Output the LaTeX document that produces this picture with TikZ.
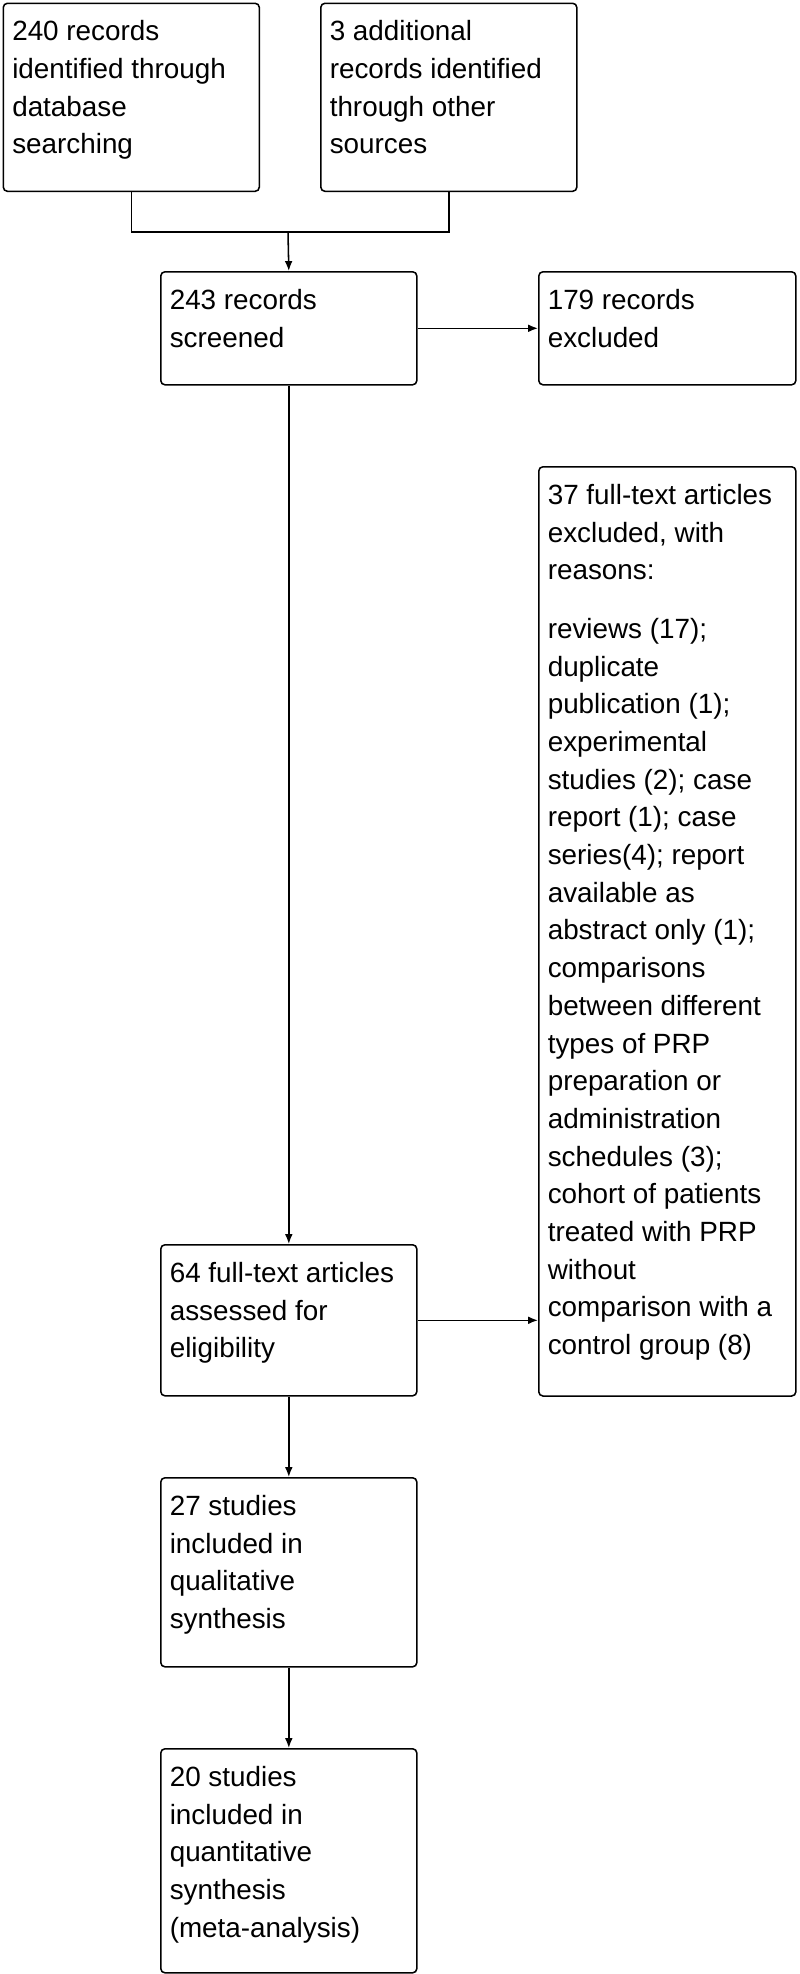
\documentclass[tikz,border=0pt]{standalone}
\usepackage{fontspec}
\setmainfont{Liberation Sans}
\usepackage{tikz}
\usetikzlibrary{calc}
\usetikzlibrary{arrows.meta}
\tikzset{>={Latex[length=7pt,width=5.5pt]}}

% box text: width, height, lines
\newcommand{\boxtext}[3]{\parbox[t][#2][t]{#1}{\raggedright\rule{0pt}{0.94cm}#3}}

\tikzset{
	flowbox/.style={draw=black, line width=1.1pt, rounded corners=3pt,
		anchor=north west, inner xsep=0.225cm, inner ysep=0pt,
		font=\fontsize{19.8pt}{26.8pt}\selectfont},
	link/.style={line width=1.1pt, draw=black}
}

\begin{document}
\begin{tikzpicture}[x=0.025cm, y=-0.025cm]

	\useasboundingbox (0,0) rectangle (800,1974);

	% Identification
	\node[flowbox] (db) at (2.5,2.5)
	{\boxtext{5.95cm}{4.7cm}{240 records\\ identified through\\ database\\ searching}};
	\node[flowbox] (other) at (320,2.5)
	{\boxtext{5.95cm}{4.7cm}{3 additional\\ records identified\\ through other\\ sources}};

	% Screening
	\node[flowbox] (screen) at (160,271)
	{\boxtext{5.95cm}{2.825cm}{243 records\\ screened}};
	\node[flowbox] (excl) at (538,271)
	{\boxtext{5.975cm}{2.825cm}{179 records\\ excluded}};

	% Eligibility
	\node[flowbox] (fullexcl) at (538,466)
	{\boxtext{5.975cm}{23.225cm}{37 full-text articles\\ excluded, with\\ reasons:\\[0.525cm]
	reviews (17);\\ duplicate\\ publication (1);\\ experimental\\ studies (2); case\\
	report (1); case\\ series(4); report\\ available as\\ abstract only (1);\\
	comparisons\\ between different\\ types of PRP\\ preparation or\\
	administration\\ schedules (3);\\ cohort of patients\\ treated with PRP\\
	without\\ comparison with a\\ control group (8)}};
	\node[flowbox] (full) at (160,1244)
	{\boxtext{5.95cm}{3.775cm}{64 full-text articles\\ assessed for\\ eligibility}};

	% Included
	\node[flowbox] (qual) at (160,1477)
	{\boxtext{5.95cm}{4.725cm}{27 studies\\ included in\\ qualitative\\ synthesis}};
	\node[flowbox] (quant) at (160,1748)
	{\boxtext{5.95cm}{5.6cm}{20 studies\\ included in\\ quantitative\\ synthesis\\ (meta-analysis)}};

	\coordinate (join) at (288,232);

	%% Connectors
	\draw[link] (db.south) |- (join) -| (other.south);
	\draw[link,->] (join) -- (screen.north);
	\draw[link,->] (screen.east) -- (excl.west);
	\draw[link,->] (screen.south) -- (full.north);
	\draw[link,->] (full.east) -- (full.east -| fullexcl.west);
	\draw[link,->] (full.south) -- (qual.north);
	\draw[link,->] (qual.south) -- (quant.north);

\end{tikzpicture}
\end{document}
